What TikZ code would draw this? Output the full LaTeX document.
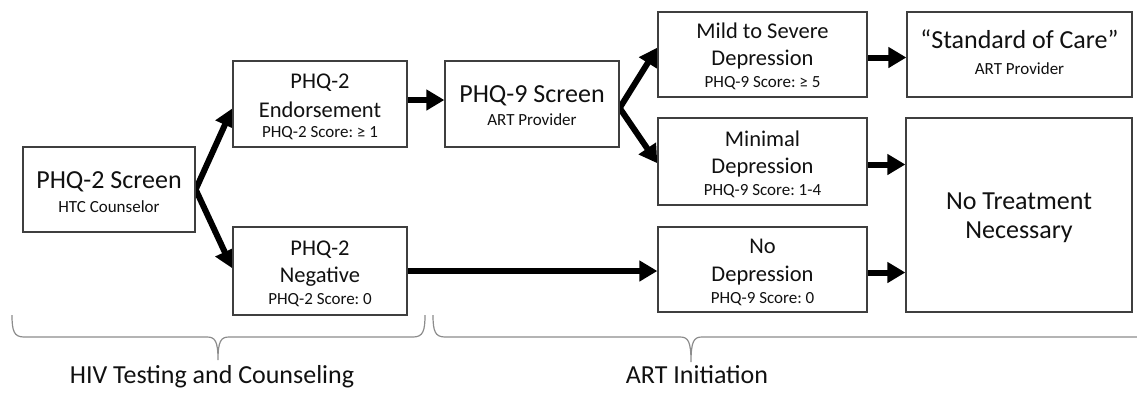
\documentclass[tikz,border=0pt]{standalone}
\usepackage{fontspec}
\setmainfont{Carlito}
\usetikzlibrary{arrows.meta,calc}
\definecolor{boxline}{HTML}{3F3F3F}
\definecolor{bracegray}{HTML}{8C8C8C}
\definecolor{ink}{HTML}{111111}
\pgfdeclarelayer{bg}
\pgfsetlayers{bg,main}
\frenchspacing
\tikzset{
  box/.style={draw=boxline, line width=1.3pt, fill=white, inner sep=0pt},
  big/.style={font=\fontsize{26}{30}\selectfont, anchor=base, inner sep=0pt, text=ink},
  mid/.style={font=\fontsize{22.5}{26}\selectfont, anchor=base, inner sep=0pt, text=ink},
  small/.style={font=\fontsize{17}{20}\selectfont, anchor=base, inner sep=0pt, text=ink},
  flow/.style={line width=6pt, draw=black, -{Triangle[length=18pt,width=20pt]}},
  brace/.style={draw=bracegray, line width=1.2pt}
}
\begin{document}
\begin{tikzpicture}[x=1pt,y=-1pt]
\useasboundingbox (0,0) rectangle (1137,392);

% boxes
\node[box, minimum width=172pt, minimum height=85pt] (b1) at (109,189.5) {};
\node[box, minimum width=174pt, minimum height=86pt] (b2) at (320,104) {};
\node[box, minimum width=174pt, minimum height=88pt] (b3) at (320,271) {};
\node[box, minimum width=174pt, minimum height=86pt] (b4) at (532,104) {};
\node[box, minimum width=209pt, minimum height=85pt] (b5) at (762.5,54.5) {};
\node[box, minimum width=209pt, minimum height=87pt] (b6) at (762.5,161.5) {};
\node[box, minimum width=209pt, minimum height=85pt] (b7) at (762.5,269.5) {};
\node[box, minimum width=225pt, minimum height=85pt] (b8) at (1019.5,54.5) {};
\node[box, minimum width=226pt, minimum height=194pt] (b9) at (1019,215) {};

% box texts
\node[big]   (t1a) at (109,188) {PHQ-2 Screen};
\node[small] (t1b) at (109,212) {HTC Counselor};
\node[mid]   (t2a) at (320,88)  {PHQ-2};
\node[mid]   (t2b) at (320,117) {Endorsement};
\node[small] (t2c) at (320,137) {PHQ-2 Score: ≥ 1};
\node[mid]   (t3a) at (320,255) {PHQ-2};
\node[mid]   (t3b) at (320,282) {Negative};
\node[small] (t3c) at (320,304) {PHQ-2 Score: 0};
\node[big]   (t4a) at (532,102) {PHQ-9 Screen};
\node[small] (t4b) at (532,125) {ART Provider};
\node[mid]   (t5a) at (762.5,38)  {Mild to Severe};
\node[mid]   (t5b) at (762.5,65)  {Depression};
\node[small] (t5c) at (762.5,87)  {PHQ-9 Score: ≥ 5};
\node[mid]   (t6a) at (762.5,146) {Minimal};
\node[mid]   (t6b) at (762.5,173) {Depression};
\node[small] (t6c) at (762.5,195) {PHQ-9 Score: 1-4};
\node[mid]   (t7a) at (762.5,253) {No};
\node[mid]   (t7b) at (762.5,281) {Depression};
\node[small] (t7c) at (762.5,303) {PHQ-9 Score: 0};
\node[big]   (t8a) at (1019.5,48) {“Standard of Care”};
\node[small] (t8b) at (1019.5,74) {ART Provider};
\node[big]   (t9a) at (1019,209) {No Treatment};
\node[big]   (t9b) at (1019,238) {Necessary};

% phase labels
\node[big] (p1) at (212,383) {HIV Testing and Counseling};
\node[big] (p2) at (697,383) {ART Initiation};

% connectors
\begin{pgfonlayer}{bg}
\draw[flow] (b1.east) -- ($(b2.north west)!0.55!(b2.south west)$);
\draw[flow] (b1.east) -- ($(b3.north west)!0.47!(b3.south west)$);
\draw[flow] ([yshift=4pt]b2.east) -- ([yshift=4pt]b4.west);
\draw[flow] ([yshift=-4pt]b4.east) -- ($(b5.north west)!0.42!(b5.south west)$);
\draw[flow] ([yshift=-4pt]b4.east) -- ($(b6.north west)!0.52!(b6.south west)$);
\draw[flow] (b3.east) -- (b3.east -| b7.west);
\draw[flow] ([yshift=-3pt]b5.east) -- ([yshift=-3pt]b8.west);
\draw[flow] ([yshift=-3pt]b6.east) -- ([yshift=-3pt]b6.east -| b9.west);
\draw[flow] ([yshift=-3pt]b7.east) -- ([yshift=-3pt]b7.east -| b9.west);
\end{pgfonlayer}

% phase braces
\draw[brace] (12,315) .. controls (12,331) and (14,337) .. (24,337) -- (207,337)
  .. controls (215,337) and (218,341) .. (218,360)
  .. controls (218,341) and (221,337) .. (229,337) -- (413,337)
  .. controls (423,337) and (425,331) .. (425,315);
\draw[brace] (433,315) .. controls (433,331) and (435,337) .. (445,337) -- (680,337)
  .. controls (688,337) and (691,341) .. (691,362)
  .. controls (691,341) and (694,337) .. (702,337) -- (1145,337);
\end{tikzpicture}
\end{document}
